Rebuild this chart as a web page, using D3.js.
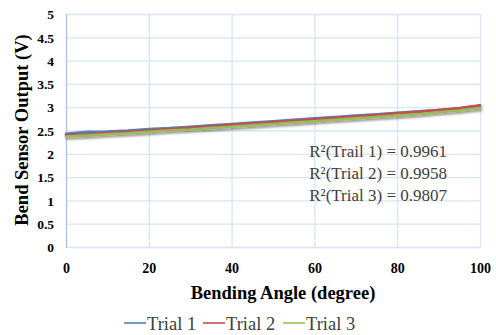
<!DOCTYPE html>
<html>
<head>
<meta charset="utf-8">
<script src="https://cdn.jsdelivr.net/npm/d3@7"></script>
<style>
  html, body { margin: 0; padding: 0; background: #fff; }
  svg { display: block; }
  svg text { font-family: "Liberation Serif", "Times New Roman", Times, "DejaVu Serif", serif !important; }
</style>
</head>
<body>
<svg id="chart" width="496" height="335"></svg>
<script>
const angles = [0, 5, 10, 15, 20, 25, 30, 35, 40, 45, 50, 55, 60, 65, 70, 75, 80, 85, 90, 95, 100];
const trial1 = [2.43, 2.47, 2.48, 2.50, 2.53, 2.55, 2.58, 2.61, 2.64, 2.67, 2.70, 2.73, 2.76, 2.79, 2.82, 2.85, 2.88, 2.91, 2.94, 2.97, 3.03];
const trial2 = [2.40, 2.42, 2.45, 2.47, 2.50, 2.53, 2.56, 2.59, 2.62, 2.65, 2.68, 2.71, 2.74, 2.77, 2.80, 2.83, 2.87, 2.90, 2.94, 2.98, 3.04];
const trial3 = [2.37, 2.39, 2.42, 2.44, 2.47, 2.50, 2.52, 2.55, 2.58, 2.61, 2.64, 2.67, 2.70, 2.73, 2.76, 2.79, 2.82, 2.85, 2.89, 2.93, 2.98];
const seriesNames = ["Trial 1", "Trial 2", "Trial 3"];
const seriesColors = ["#4f81bd", "#c0504d", "#9bbb59"];
const xTicks = [0, 20, 40, 60, 80, 100];
const yTicks = [0, 0.5, 1, 1.5, 2, 2.5, 3, 3.5, 4, 4.5, 5];
const r2Labels = ["R\u00B2(Trail 1) = 0.9961", "R\u00B2(Trial 2) = 0.9958", "R\u00B2(Trial 3) = 0.9807"];
const xTitle = "Bending Angle (degree)";
const yTitle = "Bend Sensor Output (V)";

(function () {
const svg = d3.select("#chart");
const pL = 66, pR = 480, pT = 14, pB = 247;
const x = d3.scaleLinear().domain([0, 100]).range([pL, pR]);
const y = d3.scaleLinear().domain([0, 5]).range([pB, pT]);

const defs = svg.append("defs");
const f = defs.append("filter").attr("id", "sh").attr("x", "-5%").attr("y", "-50%").attr("width", "110%").attr("height", "200%");
f.append("feGaussianBlur").attr("in", "SourceAlpha").attr("stdDeviation", 1.3);
f.append("feOffset").attr("dx", 0.5).attr("dy", 1.8).attr("result", "b");
f.append("feComponentTransfer").append("feFuncA").attr("type", "linear").attr("slope", 0.4);
const m = f.append("feMerge");
m.append("feMergeNode");
m.append("feMergeNode").attr("in", "SourceGraphic");

// grid
const grid = svg.append("g");
grid.selectAll("line.h").data(yTicks).join("line")
  .attr("x1", pL).attr("x2", pR)
  .attr("y1", d => y(d) + 0.5).attr("y2", d => y(d) + 0.5)
  .attr("stroke", "#d8e5f6").attr("stroke-width", 1.3);
grid.selectAll("line.v").data(xTicks.slice(1)).join("line")
  .attr("y1", pT).attr("y2", pB)
  .attr("x1", d => x(d) + 0.5).attr("x2", d => x(d) + 0.5)
  .attr("stroke", "#d8e5f6").attr("stroke-width", 1.3);
grid.append("line").attr("x1", pL + 0.5).attr("x2", pL + 0.5).attr("y1", pT).attr("y2", pB + 1)
  .attr("stroke", "#a9c5ee").attr("stroke-width", 1.4);

// axes
const yAxis = svg.append("g").attr("transform", `translate(${pL - 12},0)`)
  .call(d3.axisLeft(y).tickValues(yTicks).tickSize(0).tickFormat(d => d));
yAxis.select(".domain").remove();
yAxis.selectAll("text").attr("font-weight", "bold").attr("font-size", 13.5).attr("fill", "#000").attr("x", 0).attr("dy", "0.35em");

const xAxis = svg.append("g").attr("transform", `translate(0,${pB + 16})`)
  .call(d3.axisBottom(x).tickValues(xTicks).tickSize(0).tickFormat(d => d));
xAxis.select(".domain").remove();
xAxis.selectAll("text").attr("font-weight", "bold").attr("font-size", 14).attr("fill", "#000").attr("y", 0).attr("dy", "0.71em");

// lines
const all = [trial1, trial2, trial3];
const line = d3.line().x((d, i) => x(angles[i])).y(d => y(d));
svg.append("g").attr("filter", "url(#sh)").selectAll("path").data(all).join("path")
  .attr("d", d => line(d))
  .attr("fill", "none")
  .attr("stroke", (d, i) => seriesColors[i])
  .attr("stroke-width", 2.6)
  .attr("stroke-linecap", "round");

// R2 labels
svg.append("g").selectAll("text").data(r2Labels).join("text")
  .attr("x", 447).attr("y", (d, i) => 157 + i * 22)
  .attr("text-anchor", "end")
  .attr("font-size", 17).attr("fill", "#404040")
  .text(d => d);

// titles
svg.append("text").attr("x", 283).attr("y", 299)
  .attr("text-anchor", "middle").attr("font-weight", "bold")
  .attr("font-size", 18.5).attr("fill", "#000").text(xTitle);
svg.append("text").attr("transform", `translate(28,130) rotate(-90)`)
  .attr("text-anchor", "middle").attr("font-weight", "bold")
  .attr("font-size", 18.5).attr("fill", "#000").text(yTitle);

// legend
const legendX = [124, 203, 283];
const lg = svg.append("g");
seriesNames.forEach((n, i) => {
  lg.append("line").attr("x1", legendX[i]).attr("x2", legendX[i] + 22)
    .attr("y1", 323).attr("y2", 323)
    .attr("stroke", seriesColors[i]).attr("stroke-width", 1.6);
  lg.append("text").attr("x", legendX[i] + 23).attr("y", 330)
    .attr("font-size", 18.5).attr("fill", "#404040").text(n);
});
})();
</script>
</body>
</html>
